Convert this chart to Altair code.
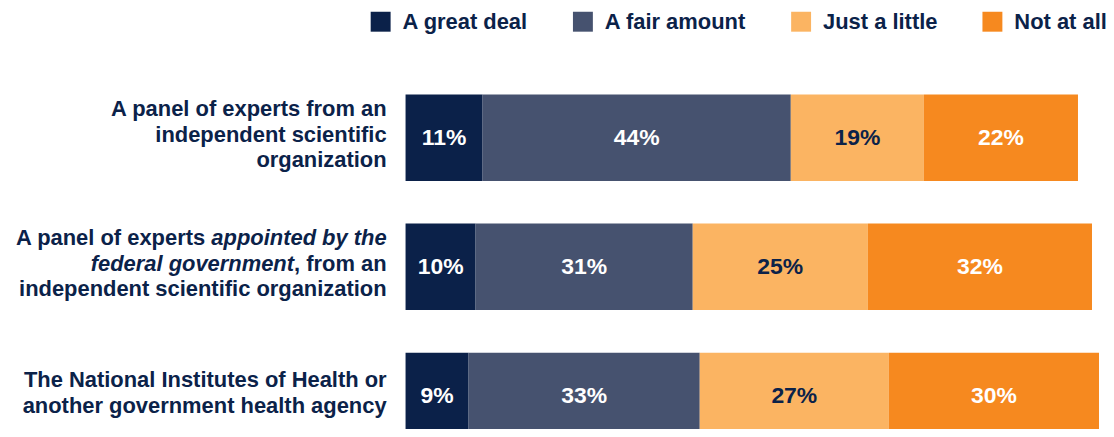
import altair as alt
import pandas as pd

# ---- data ----
categories = [
    "expert_panel",
    "fed_appointed_panel",
    "nih",
]
responses = ["A great deal", "A fair amount", "Just a little", "Not at all"]
great_deal = [11, 10, 9]
fair_amount = [44, 31, 33]
just_little = [19, 25, 27]
not_at_all = [22, 32, 30]

# label text segments: (category, line offset, text, italic)
label_lines = [
    ("expert_panel", -1, "A panel of experts from an", False),
    ("expert_panel", 0, "independent scientific", False),
    ("expert_panel", 1, "organization", False),
    ("fed_appointed_panel", -1, "A panel of experts", False),
    ("fed_appointed_panel", -1, "appointed by the", True),
    ("fed_appointed_panel", 0, "federal government", True),
    ("fed_appointed_panel", 0, ", from an", False),
    ("fed_appointed_panel", 1, "independent scientific organization", False),
    ("nih", -0.5, "The National Institutes of Health or", False),
    ("nih", 0.5, "another government health agency", False),
]

# ---- styling ----
colors = ["#0b2149", "#46526f", "#fbb462", "#f6891f"]
NAVY = "#0b2249"
FONT = "Liberation Sans"
LABEL_SIZE = 22
LINE_H = 25.5
PLOT_W = 703
PLOT_H = 335
BAND_RANGE = 346
LABEL_GAP = 19

# Arial/Liberation Sans Bold advance widths (per 1000 em)
AW = {" ": 278, ",": 278, "a": 556, "b": 611, "c": 556, "d": 611, "e": 556, "f": 333,
      "g": 611, "h": 611, "i": 278, "j": 278, "k": 556, "l": 278, "m": 889, "n": 611,
      "o": 611, "p": 611, "q": 611, "r": 389, "s": 556, "t": 333, "u": 611, "v": 556,
      "w": 778, "x": 556, "y": 556, "z": 500}


def text_w(s):
    return sum(AW.get(ch, 600) for ch in s) / 1000 * LABEL_SIZE


# ---- tables ----
rows = []
series = [great_deal, fair_amount, just_little, not_at_all]
for ci, c in enumerate(categories):
    for ri, r in enumerate(responses):
        v = series[ri][ci]
        rows.append({"cat": c, "resp": r, "ord": ri, "value": v, "lab": f"{v}%"})
df = pd.DataFrame(rows)

# compute right edges for segments on the same line
lab_rows = []
for c in categories:
    for off in sorted(set(l[1] for l in label_lines if l[0] == c)):
        segs = [l for l in label_lines if l[0] == c and l[1] == off]
        right = -LABEL_GAP
        for (_, _, t, it) in reversed(segs):
            lab_rows.append({"cat": c, "off": off, "text": t, "italic": it, "xr": right})
            right -= text_w(t)
            if not t.startswith(","):
                right -= text_w(" ")
df_lab = pd.DataFrame(lab_rows)

yscale = alt.Scale(domain=categories, paddingInner=0.33, paddingOuter=0,
                   range=[0, BAND_RANGE])
xscale = alt.Scale(domain=[0, 100])
Y = alt.Y("cat:N", sort=categories, scale=yscale, axis=None)

bars = alt.Chart(df).mark_bar().encode(
    y=Y,
    x=alt.X("value:Q", stack="zero", scale=xscale, axis=None),
    color=alt.Color(
        "resp:N",
        sort=responses,
        scale=alt.Scale(domain=responses, range=colors),
        legend=alt.Legend(
            title=None,
            orient="none",
            direction="horizontal",
            legendX=-36,
            legendY=-84,
            symbolType="square",
            symbolSize=400,
            symbolStrokeWidth=0,
            symbolOpacity=1,
            labelFont=FONT,
            labelFontSize=22,
            labelFontWeight="bold",
            labelColor=NAVY,
            labelOffset=11,
            labelLimit=400,
            columnPadding=44,
            padding=0,
        ),
    ),
    order=alt.Order("ord:Q", sort="ascending"),
)

pct_base = alt.Chart(df).transform_stack(
    stack="value", groupby=["cat"], as_=["x0", "x1"],
    sort=[alt.SortField("ord", order="ascending")]
).transform_calculate(mid="(datum.x0 + datum.x1) / 2")

pct_white = pct_base.transform_filter(alt.datum.resp != "Just a little").mark_text(
    font=FONT, fontSize=23, fontWeight="bold", color="white", baseline="middle"
).encode(y=Y, x=alt.X("mid:Q", scale=xscale, axis=None), text="lab:N")

pct_navy = pct_base.transform_filter(alt.datum.resp == "Just a little").mark_text(
    font=FONT, fontSize=23, fontWeight="bold", color=NAVY, baseline="middle"
).encode(y=Y, x=alt.X("mid:Q", scale=xscale, axis=None), text="lab:N")

layers = [bars, pct_white, pct_navy]

pxscale = alt.Scale(domain=[0, PLOT_W], range=[0, PLOT_W])
for off in sorted(df_lab["off"].unique()):
    for it in [False, True]:
        sub = df_lab[(df_lab["off"] == off) & (df_lab["italic"] == it)]
        if len(sub) == 0:
            continue
        layers.append(
            alt.Chart(sub).mark_text(
                align="right", baseline="middle", font=FONT, fontSize=LABEL_SIZE,
                fontWeight="bold", fontStyle="italic" if it else "normal",
                color=NAVY, dy=float(off) * LINE_H - 3,
            ).encode(
                y=Y,
                x=alt.X("xr:Q", scale=pxscale, axis=None),
                text="text:N",
            )
        )

chart = alt.layer(*layers).resolve_scale(x="independent").properties(
    width=PLOT_W,
    height=PLOT_H,
    padding={"left": 399, "top": 86, "right": 0, "bottom": 0},
    autosize=alt.AutoSizeParams(type="none"),
    background="white",
).configure_view(stroke=None)

chart.save("out.html", embed_options={"renderer": "svg", "actions": False})
